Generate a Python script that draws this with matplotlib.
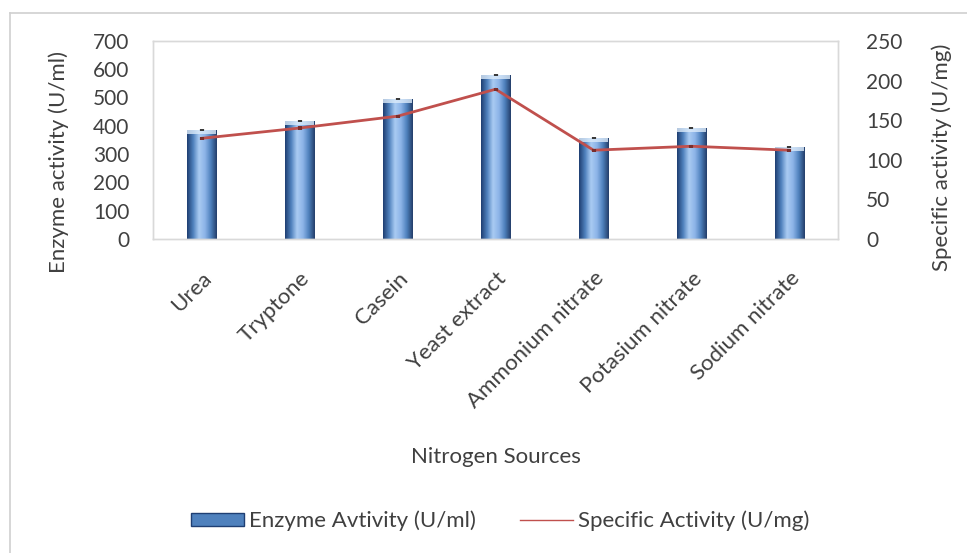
import numpy as np
import matplotlib
matplotlib.use('Agg')
import matplotlib.pyplot as plt
from matplotlib.patches import Rectangle, Patch
from matplotlib.lines import Line2D
from matplotlib.colors import LinearSegmentedColormap

# data
sources = ['Urea', 'Tryptone', 'Casein', 'Yeast extract', 'Ammonium nitrate',
           'Potasium nitrate', 'Sodium nitrate']
enzyme_activity = [385, 418, 494, 580, 356, 391, 324]      # U/ml
enzyme_err = [3, 3, 3, 3, 3, 3, 3]
specific_activity = [127, 140, 155, 189, 112, 117, 112]    # U/mg
specific_err = [2, 2, 2, 2, 2, 2, 2]

plt.rcParams['font.family'] = ['Lato', 'DejaVu Sans']
txt = '#404040'

fig = plt.figure(figsize=(9.67, 5.53), dpi=100)
ax = fig.add_axes([0.158, 0.568, 0.709, 0.358])
ax2 = ax.twinx()

x = np.arange(len(sources))
width = 0.3

# gradient for the bars (excel style cylinder look)
bar_cmap = LinearSegmentedColormap.from_list(
    'bar', ['#1F3F73', '#4F81BD', '#A9CBF2', '#8DB4E8', '#4F81BD', '#243F6B'])
grad = np.linspace(0, 1, 64).reshape(1, -1)

bars = ax.bar(x, enzyme_activity, width, color='none', edgecolor='none', zorder=2)
for b in bars:
    x0, w, h = b.get_x(), b.get_width(), b.get_height()
    im = ax.imshow(grad, cmap=bar_cmap, aspect='auto',
                   extent=[x0, x0 + w, 0, h], zorder=2)
    clip = Rectangle((x0, 0), w, h, transform=ax.transData)
    im.set_clip_path(clip)
    # lighter cap at the top of the bar
    ax.add_patch(Rectangle((x0, h - 14), w, 14, color='#DCEBFA', alpha=0.8,
                           lw=0, zorder=3))

ax.errorbar(x, enzyme_activity, yerr=enzyme_err, fmt='none', ecolor='#3A3A3A',
            elinewidth=3, capsize=0, zorder=4)

ax.set_xlim(-0.5, len(sources) - 0.5)
ax.set_ylim(0, 700)
ax.set_yticks(range(0, 701, 100))
ax.set_xticks(x)
ax.set_xticklabels(sources, rotation=45, ha='right', va='top',
                   rotation_mode='anchor', fontsize=16, color=txt)
ax.tick_params(axis='x', length=0, pad=21)
ax.tick_params(axis='y', length=0, pad=17, labelsize=15, labelcolor=txt)
ax.set_ylabel('Enzyme activity (U/ml)', fontsize=16, color=txt)
ax.yaxis.set_label_coords(-0.122, 0.39)
ax.set_xlabel('Nitrogen Sources', fontsize=16, color=txt, labelpad=25)

ax2.plot(x, specific_activity, color='#C0504D', lw=2, zorder=5)
ax2.errorbar(x, specific_activity, yerr=specific_err, fmt='none', ecolor='#7A2E2C',
             elinewidth=3, capsize=0, zorder=6)
ax2.set_ylim(0, 250)
ax2.set_yticks(range(0, 251, 50))
ax2.tick_params(axis='y', length=0, pad=20, labelsize=15, labelcolor=txt)
ax2.set_ylabel('Specific activity (U/mg)', fontsize=16, color=txt)
ax2.yaxis.set_label_coords(1.135, 0.41)

for a in (ax, ax2):
    for s in a.spines.values():
        s.set_color('#D9D9D9')
        s.set_linewidth(1)

# outer chart frame (only top and left edge visible)
fig.add_artist(Line2D([10 / 967, 10 / 967], [0, 1 - 13 / 553],
                      transform=fig.transFigure, color='#D0D0D0', lw=1.2))
fig.add_artist(Line2D([10 / 967, 1], [1 - 13 / 553, 1 - 13 / 553],
                      transform=fig.transFigure, color='#D0D0D0', lw=1.2))

handles = [Patch(facecolor='#4F81BD', edgecolor='#1F3F73'),
           Line2D([], [], color='#C0504D', lw=1)]
fig.legend(handles, ['Enzyme Avtivity (U/ml)', 'Specific Activity (U/mg)'],
           loc='center', bbox_to_anchor=(0.517, 0.058), ncol=2, frameon=False,
           fontsize=16, labelcolor=txt, handlelength=2.4, handleheight=0.5,
           columnspacing=2.0, handletextpad=0.2)

fig.savefig('out.png', dpi=100)
